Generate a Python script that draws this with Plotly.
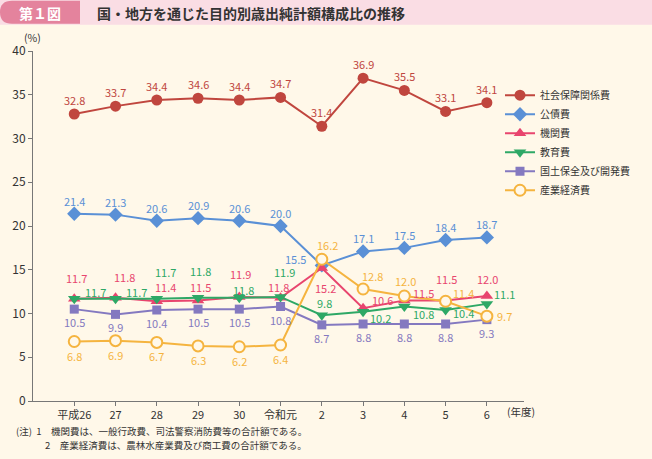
import plotly.graph_objects as go

categories = ["平成26", "27", "28", "29", "30", "令和元", "2", "3", "4", "5", "6"]
series_names = ["社会保障関係費", "公債費", "機関費", "教育費", "国土保全及び開発費", "産業経済費"]
shakai = [32.8, 33.7, 34.4, 34.6, 34.4, 34.7, 31.4, 36.9, 35.5, 33.1, 34.1]
kousai = [21.4, 21.3, 20.6, 20.9, 20.6, 20.0, 15.5, 17.1, 17.5, 18.4, 18.7]
kikan = [11.7, 11.8, 11.4, 11.5, 11.9, 11.8, 15.2, 10.6, 11.5, 11.5, 12.0]
kyouiku = [11.7, 11.7, 11.7, 11.8, 11.8, 11.9, 9.8, 10.2, 10.8, 10.4, 11.1]
kokudo = [10.5, 9.9, 10.4, 10.5, 10.5, 10.8, 8.7, 8.8, 8.8, 8.8, 9.3]
sangyou = [6.8, 6.9, 6.7, 6.3, 6.2, 6.4, 16.2, 12.8, 12.0, 11.4, 9.7]
y_ticks = [0, 5, 10, 15, 20, 25, 30, 35, 40]

# styles
FONT = "Noto Sans CJK JP"
BG = "#FFF8E9"
colors = ["#C0463E", "#5A90D6", "#E8456E", "#2EA866", "#8479C0", "#F5B43F"]
symbols = ["circle", "diamond", "triangle-up", "triangle-down", "square", "circle-open"]
msizes = [11, 11, 11, 11, 9, 11]
# label offsets (pixels)
offsets = [
    [(0, 14)] * 11,
    [(0, 13)] * 6 + [(-26, 6)] + [(0, 13)] * 4,
    [(2, 21), (9, 21), (9, 14), (2, 13), (1, 23), (-2, 11), (4, -20), (19, 8), (19, 7), (1, 21), (1, 17)],
    [(21, 7), (21, 7), (9, 27), (2, 27), (4, 8), (4, 25), (3, 12), (17, -6), (19, -7), (18, -3), (18, 10)],
    [(0, -13)] * 11,
    [(0, -14)] * 6 + [(6, 14), (9, 13), (1, 15), (18, 8), (18, 0)],
]

data = [shakai, kousai, kikan, kyouiku, kokudo, sangyou]
xs = list(range(len(categories)))

fig = go.Figure()
annotations = []
for k, (name, vals) in enumerate(zip(series_names, data)):
    marker = dict(symbol=symbols[k], size=msizes[k], color=colors[k])
    if symbols[k] == "circle-open":
        marker = dict(symbol="circle", size=msizes[k], color=BG, line=dict(color=colors[k], width=2))
    fig.add_trace(go.Scatter(
        x=xs, y=vals, name=name, mode="lines+markers",
        line=dict(color=colors[k], width=2), marker=marker,
    ))
    for i, v in enumerate(vals):
        dx, dy = offsets[k][i]
        annotations.append(dict(
            x=i, y=v, xref="x", yref="y", text=f"{v:.1f}", showarrow=False,
            xshift=dx, yshift=dy, font=dict(family=FONT, size=11, color=colors[k]),
        ))

# pixel -> paper helpers
def px(xp):
    return (xp - 33) / 491.0

def py(yp):
    return (401 - yp) / 349.7

annotations += [
    dict(x=px(32), y=py(38), xref="paper", yref="paper", text="(%)", showarrow=False,
         xanchor="center", yanchor="middle", font=dict(family=FONT, size=10.5, color="#333")),
    dict(x=px(521), y=py(411), xref="paper", yref="paper", text="(年度)", showarrow=False,
         xanchor="center", yanchor="middle", font=dict(family=FONT, size=10.5, color="#333")),
    dict(x=px(40), y=py(13), xref="paper", yref="paper", text="<b>第１図</b>", showarrow=False,
         xanchor="center", yanchor="middle", font=dict(family=FONT, size=14, color="white")),
    dict(x=px(95), y=py(13), xref="paper", yref="paper", text="<b>国・地方を通じた目的別歳出純計額構成比の推移</b>",
         showarrow=False, xanchor="left", yanchor="middle", font=dict(family=FONT, size=14, color="#333")),
    dict(x=px(14), y=py(431), xref="paper", yref="paper",
         text="(注)  1　機関費は、一般行政費、司法警察消防費等の合計額である。", showarrow=False,
         xanchor="left", yanchor="middle", font=dict(family=FONT, size=9.5, color="#333")),
    dict(x=px(43), y=py(444.5), xref="paper", yref="paper",
         text="2　産業経済費は、農林水産業費及び商工費の合計額である。", showarrow=False,
         xanchor="left", yanchor="middle", font=dict(family=FONT, size=9.5, color="#333")),
]

shapes = [
    dict(type="rect", xref="paper", yref="paper", x0=px(0), x1=px(652), y0=py(25), y1=py(0),
         fillcolor="#FADDE4", line=dict(width=0), layer="below"),
    dict(type="path", xref="paper", yref="paper",
         path=f"M {px(12)},{py(1)} L {px(80)},{py(1)} L {px(80)},{py(24)} L {px(12)},{py(24)} "
              f"Q {px(0)},{py(24)} {px(0)},{py(12.5)} Q {px(0)},{py(1)} {px(12)},{py(1)} Z",
         fillcolor="#E4839D", line=dict(width=0), layer="below"),
]

fig.update_layout(
    width=652, height=459,
    margin=dict(l=33, r=128, t=51, b=58),
    paper_bgcolor=BG, plot_bgcolor=BG,
    font=dict(family=FONT, size=11, color="#333"),
    showlegend=True,
    legend=dict(x=px(500), y=py(81), xanchor="left", yanchor="top", bgcolor="rgba(0,0,0,0)",
                font=dict(family=FONT, size=10, color="#333"), itemwidth=30, tracegroupgap=0),
    annotations=annotations, shapes=shapes,
    xaxis=dict(range=[-1, 10.9], tickmode="array", tickvals=xs, ticktext=categories,
               showgrid=False, zeroline=False, showline=True, linecolor="#777", linewidth=1,
               ticks="outside", ticklen=4, tickcolor="#777", tickfont=dict(size=11, color="#333")),
    yaxis=dict(range=[0, 40], tickmode="array", tickvals=y_ticks, showgrid=False, zeroline=False,
               showline=True, linecolor="#777", linewidth=1, ticks="outside", ticklen=4,
               tickcolor="#777", tickfont=dict(size=12, color="#333")),
)

fig.write_html("out.html")
